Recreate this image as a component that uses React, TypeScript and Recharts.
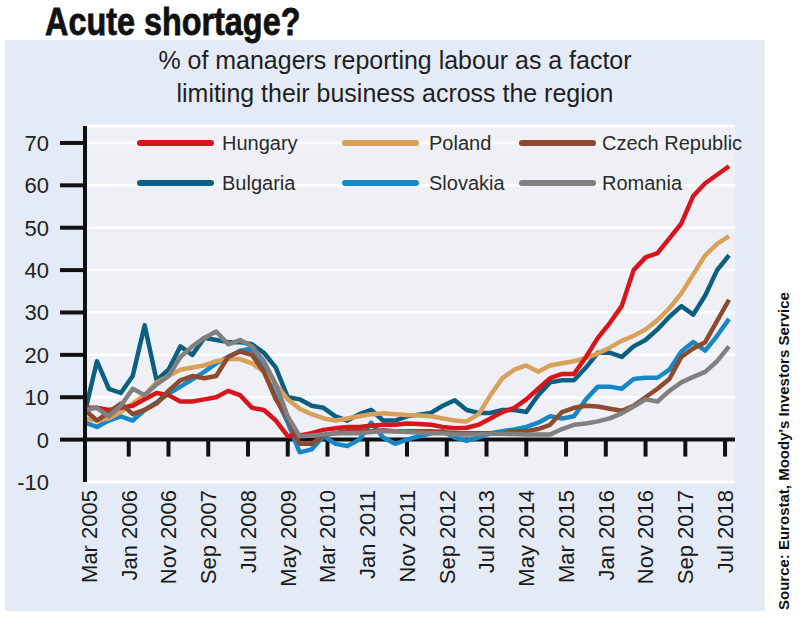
import { CartesianGrid, Line, LineChart, ReferenceLine, XAxis, YAxis } from "recharts";

// quarterly readings, first point sits on the y axis (Feb 2005)
const months = Array.from({ length: 55 }, (_, j) => -1 + 3 * j);

const hungary = [7.5, 7.5, 7, 7.5, 8, 9.5, 11, 10.5, 9, 9, 9.5, 10, 11.5, 10.5, 7.5, 7, 4.5, 0.8, 1, 1.5, 2.3, 2.7, 3, 3, 3.3, 3.5, 3.5, 3.8, 3.7, 3.5, 3, 2.7, 2.8, 3.5, 5, 6.5, 7.5, 9.5, 12, 14.5, 15.5, 15.5, 19.5, 24, 27.5, 31.5, 40, 43, 44, 47.5, 51, 57.5, 60.5, 62.5, 64.5];
const poland = [5, 4.5, 5, 6.5, 8.5, 10.5, 13.5, 15, 16.5, 17, 17.5, 18.5, 19, 19, 18, 16, 13, 9.5, 7.3, 6, 5, 4.5, 5, 5.5, 6, 6.2, 6, 5.8, 5.7, 5.5, 5, 4.5, 4.3, 6, 10.5, 14.5, 16.5, 17.5, 16, 17.5, 18, 18.5, 19.3, 20.3, 21.7, 23.3, 24.5, 26, 28.2, 31, 34.5, 39, 43.5, 46.2, 48];
const czech = [7, 4.5, 6.5, 8.5, 6, 7, 8.5, 11.5, 14, 15, 14.5, 15, 19.5, 20.8, 20, 16, 9.5, 5, -1, -1, 1, 1.5, 2, 2, 2, 2.2, 2, 2, 2, 2, 1.8, 1.5, 1.5, 1.5, 1.5, 1.5, 2, 2, 2.5, 3.5, 6.5, 7.5, 8, 7.8, 7.3, 6.8, 8, 10, 12, 14.3, 19.5, 21.5, 23, 28, 33];
const bulgaria = [6.5, 18.5, 12, 11, 15, 27, 14, 16.5, 22, 20, 24, 23.5, 23, 23, 22.5, 20.5, 17, 10, 9.5, 8, 7.5, 5.5, 4.5, 6, 7, 4.5, 4.5, 5.5, 5.9, 6.3, 8, 9.3, 7, 6.3, 6.3, 7, 7, 6.5, 10.5, 13.5, 14, 14, 17, 20.5, 20.5, 19.5, 22, 23.5, 26, 29, 31.5, 29.5, 34, 40, 43.5];
const slovakia = [4, 3, 4.5, 5.5, 4.5, 7, 8.8, 10.8, 12.5, 14.2, 16, 18, 19.5, 21, 21.5, 17, 10, 4, -3, -2.3, 0.8, -1, -1.5, 0, 4, 0.5, -1, 0, 0.8, 1.5, 2, 0.5, -0.3, 0.5, 1.5, 2, 2.4, 3, 4, 5.5, 5, 5.5, 9.5, 12.5, 12.5, 12, 14.3, 14.6, 14.6, 16.5, 20.8, 23, 21, 24.5, 28.5];
const romania = [7, 7.5, 5.5, 8, 12, 10.5, 13, 15, 19.5, 22, 24, 25.5, 22.5, 23.5, 22, 18.5, 13, 5.5, 0.8, 1, 1.2, 1.5, 1.5, 1.5, 1.8, 2, 2, 1.8, 1.7, 1.5, 1.5, 1.2, 1.2, 1.2, 1.4, 1.4, 1.3, 1.2, 1.2, 1.2, 2.5, 3.5, 3.8, 4.3, 5, 6.2, 7.8, 9.5, 9, 11.5, 13.5, 14.8, 16, 18.5, 22];

const xTickLabels = ["Mar 2005", "Jan 2006", "Nov 2006", "Sep 2007", "Jul 2008", "May 2009", "Mar 2010", "Jan 2011", "Nov 2011", "Sep 2012", "Jul 2013", "May 2014", "Mar 2015", "Jan 2016", "Nov 2016", "Sep 2017", "Jul 2018"];
const xTicks = xTickLabels.map((_, k) => k * 10);
const yTicks = [-10, 0, 10, 20, 30, 40, 50, 60, 70];

const series = [
  { key: "bulgaria", name: "Bulgaria", color: "#0d5f82", values: bulgaria },
  { key: "slovakia", name: "Slovakia", color: "#1787c8", values: slovakia },
  { key: "poland", name: "Poland", color: "#d9a05c", values: poland },
  { key: "hungary", name: "Hungary", color: "#d8141c", values: hungary },
  { key: "czech", name: "Czech Republic", color: "#8e4a2e", values: czech },
  { key: "romania", name: "Romania", color: "#808080", values: romania },
];

const legendRows = [
  ["hungary", "poland", "czech"],
  ["bulgaria", "slovakia", "romania"],
];

const data = months.map((m, j) => {
  const row: Record<string, number> = { m };
  series.forEach((s) => (row[s.key] = s.values[j]));
  return row;
});

const FONT = "'Liberation Sans', Arial, sans-serif";

function XTick({ x, y, payload }: any) {
  const label = xTickLabels[Math.round(payload.value / 10)];
  return (
    <text
      x={x}
      y={y}
      transform={`rotate(-90 ${x} ${y})`}
      textAnchor="end"
      dy="0.36em"
      fontSize={22}
      fontFamily={FONT}
      fill="#1a1a1a"
    >
      {label}
    </text>
  );
}

function YTick({ x, y, payload }: any) {
  return (
    <g>
      {payload.value !== -10 && (
        <line x1={x + 11} x2={x + 37} y1={y} y2={y} stroke="#111" strokeWidth={4} />
      )}
      <text x={x} y={y} dy="0.36em" textAnchor="end" fontSize={22} fontFamily={FONT} fill="#222">
        {payload.value}
      </text>
    </g>
  );
}

const legendCols = [
  { left: 137, gap: 8 },
  { left: 342, gap: 10 },
  { left: 519, gap: 6 },
];

export default function App() {
  return (
    <div style={{ position: "absolute", left: 0, top: 0, width: 800, height: 620, background: "#fff", overflow: "hidden", fontFamily: FONT }}>
      <div style={{ position: "absolute", left: 5, top: 40, width: 760, height: 571, background: "#e5ebf6" }} />
      <div
        style={{
          position: "absolute",
          left: 45,
          top: 0,
          fontSize: 39,
          fontWeight: 700,
          color: "#111",
          whiteSpace: "nowrap",
          transform: "scaleX(0.83)",
          transformOrigin: "left top",
          WebkitTextStroke: "0.8px #111",
        }}
      >
        Acute shortage?
      </div>
      <div
        style={{
          position: "absolute",
          left: 0,
          top: 44,
          width: 790,
          textAlign: "center",
          fontSize: 26,
          lineHeight: "33px",
          color: "#1e1e1e",
          transform: "scaleX(0.96)",
          transformOrigin: "395px 0",
        }}
      >
        % of managers reporting labour as a factor
        <br />
        limiting their business across the region
      </div>

      <div style={{ position: "absolute", left: 0, top: 0 }}>
        <LineChart width={800} height={620} data={data} margin={{ top: 126, right: 65, bottom: 0, left: 0 }}>
          <CartesianGrid vertical={false} fill="#eef0f5" stroke="#ffffff" strokeWidth={2.5} />
          <XAxis
            type="number"
            dataKey="m"
            domain={[-1, 162.5]}
            ticks={xTicks}
            interval={0}
            height={138}
            axisLine={false}
            tickLine={false}
            tickSize={0}
            tickMargin={8}
            tick={<XTick />}
          />
          <YAxis
            type="number"
            domain={[-10, 74]}
            ticks={yTicks}
            interval={0}
            width={85}
            axisLine={{ stroke: "#111", strokeWidth: 4 }}
            tickLine={false}
            tickSize={25}
            tickMargin={11}
            tick={<YTick />}
          />
          <ReferenceLine y={0} stroke="#111" strokeWidth={4} />
          {xTicks.slice(1).map((t) => (
            <ReferenceLine
              key={t}
              segment={[
                { x: t, y: 0 },
                { x: t, y: -4 },
              ]}
              stroke="#111"
              strokeWidth={4}
            />
          ))}
          {series.map((s) => (
            <Line
              key={s.key}
              type="linear"
              dataKey={s.key}
              name={s.name}
              stroke={s.color}
              strokeWidth={4.5}
              strokeLinejoin="round"
              dot={false}
              activeDot={false}
              isAnimationActive={false}
            />
          ))}
        </LineChart>
      </div>

      {legendRows.map((row, r) =>
        row.map((key, c) => {
          const s = series.find((d) => d.key === key)!;
          return (
            <div
              key={key}
              style={{
                position: "absolute",
                left: legendCols[c].left,
                top: 129 + r * 40,
                height: 28,
                display: "flex",
                alignItems: "center",
                whiteSpace: "nowrap",
              }}
            >
              <span style={{ display: "inline-block", width: 77, height: 6, borderRadius: 3, background: s.color }} />
              <span style={{ marginLeft: legendCols[c].gap, fontSize: 20, color: "#2a2a2a" }}>{s.name}</span>
            </div>
          );
        })
      )}

      <div
        style={{
          position: "absolute",
          left: 775,
          top: 610,
          fontSize: 15,
          lineHeight: "18px",
          fontWeight: 700,
          color: "#111",
          whiteSpace: "nowrap",
          transform: "rotate(-90deg)",
          transformOrigin: "left top",
        }}
      >
        Source: Eurostat, Moody's Investors Service
      </div>
    </div>
  );
}
